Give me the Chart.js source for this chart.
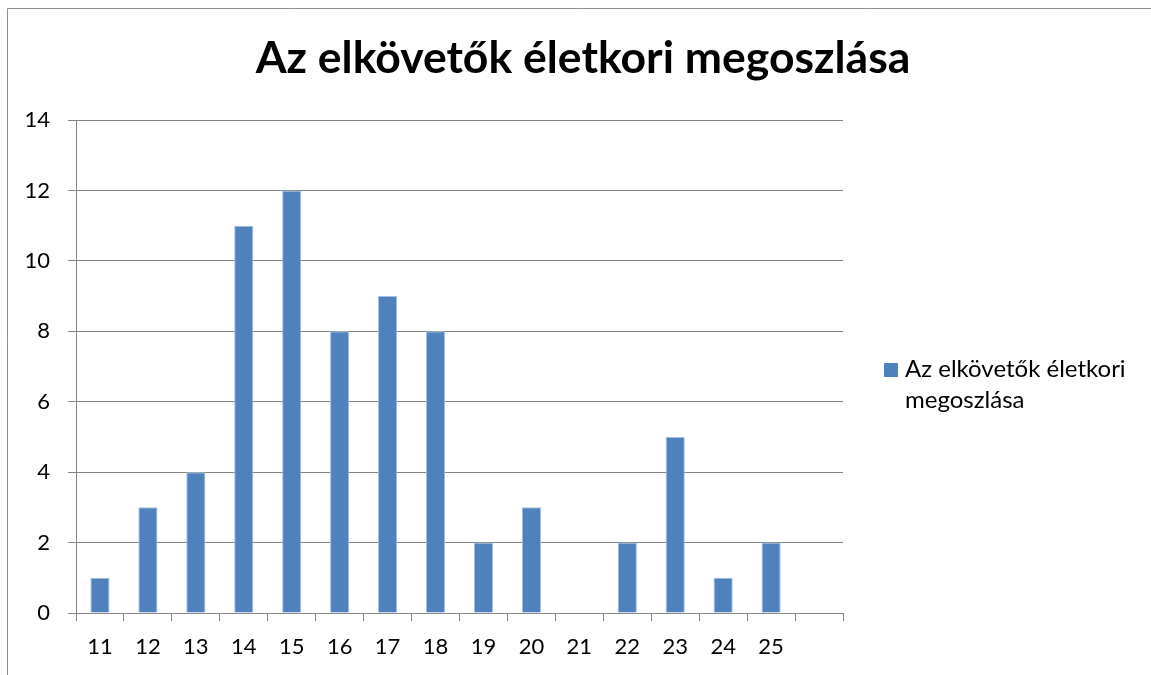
<!DOCTYPE html>
<html>
<head>
<meta charset="utf-8">
<script src="https://cdn.jsdelivr.net/npm/chart.js@4/dist/chart.umd.min.js"></script>
<style>
  html, body { margin: 0; padding: 0; background: #fff; }
  #wrap { width: 1151px; height: 675px; }
</style>
</head>
<body>
<div id="wrap"><canvas id="myChart"></canvas></div>
<script>
const chartTitle = 'Az elkövetők életkori megoszlása';
const seriesName = ['Az elkövetők életkori', 'megoszlása'];
const ages = ['11', '12', '13', '14', '15', '16', '17', '18', '19', '20', '21', '22', '23', '24', '25', ''];
const counts = [1, 3, 4, 11, 12, 8, 9, 8, 2, 3, 0, 2, 5, 1, 2, null];
const yTicks = [0, 2, 4, 6, 8, 10, 12, 14];

const barColor = '#4F81BD';
const gridColor = '#868686';
const fontName = 'Lato, "Open Sans", sans-serif';

// frame, title and legend drawn by hand (title is centred on the whole frame,
// legend wraps on two lines)
const extras = {
  id: 'extras',
  beforeDraw(chart) {
    const ctx = chart.ctx;
    ctx.save();
    ctx.fillStyle = '#fff';
    ctx.fillRect(0, 0, chart.width, chart.height);
    ctx.strokeStyle = '#8c8c8c';
    ctx.lineWidth = 1;
    ctx.beginPath();
    ctx.moveTo(7.5, chart.height);
    ctx.lineTo(7.5, 8.5);
    ctx.lineTo(chart.width, 8.5);
    ctx.stroke();
    ctx.restore();
  },
  afterDraw(chart) {
    const ctx = chart.ctx;
    ctx.save();
    ctx.fillStyle = '#000';
    ctx.font = 'bold 44.5px ' + fontName;
    ctx.textAlign = 'center';
    ctx.textBaseline = 'alphabetic';
    ctx.fillText(chartTitle, 583, 73);

    ctx.fillStyle = barColor;
    ctx.fillRect(884, 363, 14, 14);
    ctx.fillStyle = '#000';
    ctx.font = '24px ' + fontName;
    ctx.textAlign = 'left';
    seriesName.forEach(function(line, i) {
      ctx.fillText(line, 905, 377 + i * 31);
    });
    ctx.restore();
  }
};

const config = {
  type: 'bar',
  data: {
    labels: ages,
    datasets: [{
      label: seriesName.join(' '),
      data: counts,
      backgroundColor: barColor,
      borderColor: '#a7c0de',
      borderWidth: { top: 1, left: 1, right: 1, bottom: 0 },
      barPercentage: 0.4,
      categoryPercentage: 1.0
    }]
  },
  options: {
    responsive: true,
    maintainAspectRatio: false,
    animation: false,
    layout: { padding: { left: 0, right: 308, top: 120, bottom: 0 } },
    plugins: {
      legend: { display: false },
      tooltip: { enabled: false },
      title: { display: false }
    },
    scales: {
      x: {
        grid: {
          display: true,
          drawOnChartArea: false,
          drawTicks: true,
          tickLength: 8,
          color: gridColor,
          offset: true
        },
        border: { display: true, color: gridColor },
        ticks: {
          color: '#000',
          font: { family: fontName, size: 22 },
          padding: 13,
          maxRotation: 0,
          autoSkip: false
        },
        afterFit(scale) { scale.height = 62; }
      },
      y: {
        min: 0,
        max: 14,
        grid: { color: gridColor, tickLength: 8 },
        border: { display: true, color: gridColor },
        afterBuildTicks(scale) {
          scale.ticks = yTicks.map(v => ({ value: v }));
        },
        ticks: {
          color: '#000',
          font: { family: fontName, size: 22 },
          padding: 18
        },
        afterFit(scale) { scale.width = 76; }
      }
    }
  },
  plugins: [extras]
};

const myChart = new Chart(document.getElementById('myChart'), config);
</script>
</body>
</html>
